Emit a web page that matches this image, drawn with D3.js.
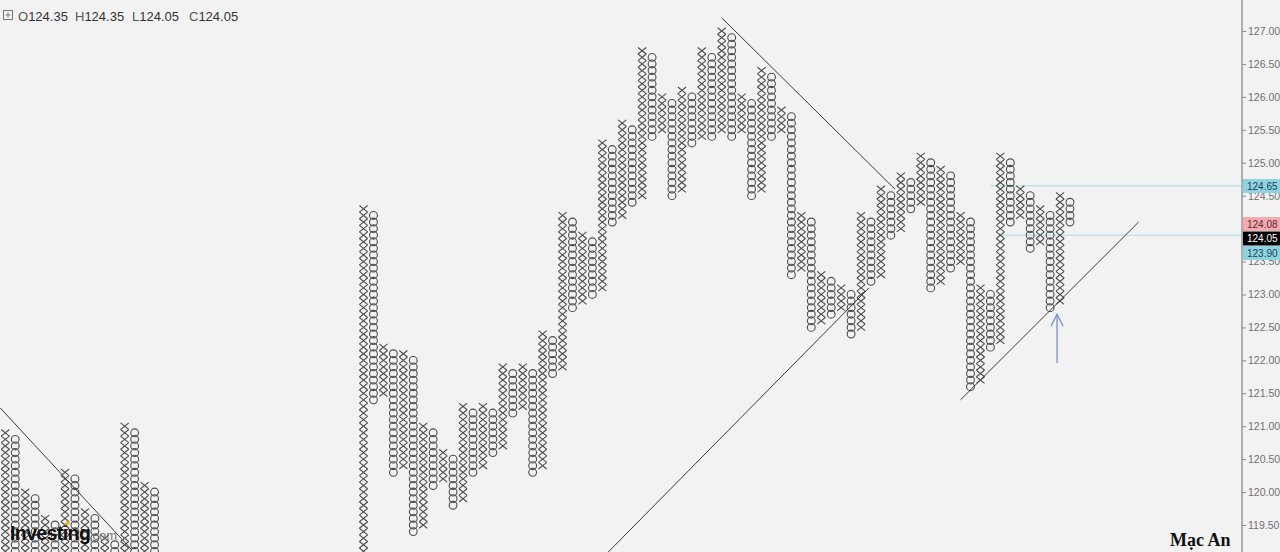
<!DOCTYPE html>
<html><head><meta charset="utf-8">
<script src="https://cdn.jsdelivr.net/npm/d3@7"></script>
<style>
html,body{margin:0;padding:0;background:#f2f2f2;}
svg{display:block;}
</style></head>
<body>
<svg id="c" width="1280" height="552"></svg>
<script>
// ---- data (column index, type, low box, high box) ----
const colIdx = [-37,-36,-35,-34,-33,-32,-31,-30,-29,-28,-27,-26,-25,-24,-23,-22,-21,
  0,1,2,3,4,5,6,7,8,9,10,11,12,13,14,15,16,17,18,19,20,21,22,23,24,25,26,27,28,29,30,
  31,32,33,34,35,36,37,38,39,40,41,42,43,44,45,46,47,48,49,50,51,52,53,54,55,56,57,58,59,
  60,61,62,63,64,65,66,67,68,69,70,71];
const colType = ["O","X","O","X","O","X","O","X","O","X","O","X","O","X","O","X","O",
  "X","O","X","O","X","O","X","O","X","O","X","O","X","O","X","O","X","O","X","O","X","O",
  "X","O","X","O","X","O","X","O","X","O","X","O","X","O","X","O","X","O","X","O","X","O",
  "X","O","X","O","X","O","X","O","X","O","X","O","X","O","X","O","X","O","X","O","X","O",
  "X","O","X","O","X","O"];
const colLow = [118.8,118.8,118.8,118.8,118.8,118.8,118.8,118.8,118.8,118.8,118.8,118.8,118.8,118.8,118.8,118.8,118.8,
  118.8,121.4,121.5,120.3,120.4,119.4,119.5,120.1,120.2,119.8,119.9,120.3,120.4,120.6,120.7,121.2,121.3,120.3,120.4,121.8,
  121.9,122.8,122.9,123.0,123.1,124.1,124.2,124.4,124.5,125.4,125.5,124.5,124.6,125.3,125.4,125.4,125.5,125.4,125.5,124.5,
  124.6,125.4,125.5,123.3,123.4,122.5,122.6,122.7,122.8,122.4,122.5,123.2,123.3,123.9,124.0,124.3,124.4,123.1,123.2,123.4,
  123.5,121.6,121.7,122.2,122.3,124.1,124.2,123.7,123.8,122.8,122.9,124.1];
const colHigh = [120.8,120.9,120.8,120.0,119.9,119.6,119.5,120.3,120.2,119.7,119.6,119.3,119.2,121.0,120.9,120.1,120.0,
  124.3,124.2,122.2,122.1,122.1,122.0,121.0,120.9,120.6,120.5,121.3,121.2,121.3,121.2,121.9,121.8,121.9,121.8,122.4,122.3,
  124.2,124.1,123.9,123.8,125.3,125.2,125.6,125.5,126.7,126.6,126.0,125.9,126.1,126.0,126.7,126.6,127.0,126.9,126.0,125.9,
  126.4,126.3,125.8,125.7,124.2,124.1,123.3,123.2,123.1,123.0,124.2,124.1,124.6,124.5,124.8,124.7,125.1,125.0,124.9,124.8,
  124.2,124.1,123.1,123.0,125.1,125.0,124.6,124.5,124.3,124.2,124.5,124.4];
const tickValues = [119.5,120.0,120.5,121.0,121.5,122.0,122.5,123.0,123.5,124.0,124.5,125.0,125.5,126.0,126.5,127.0];
const hiddenTicks = [124.0];
const priceLabels = [
  {text:"124.65", value:124.65, bg:"#8fd3e1", fg:"#1f3f55", labelY:186},
  {text:"124.08", value:124.08, bg:"#f5a9b1", fg:"#5a2a2e", labelY:224},
  {text:"124.05", value:124.05, bg:"#000000", fg:"#ffffff", labelY:238.5},
  {text:"123.90", value:123.90, bg:"#8fd3e1", fg:"#1f3f55", labelY:253}
];
const hLines = [{value:124.65, fromCol:63}, {value:123.90, fromCol:64.2}];
const ohlc = [["O","124.35"],["H","124.35"],["L","124.05"],["C","124.05"]];
// trend lines in [column, price] coordinates
const trendLines = [
  [[-36.53,121.28],[-23.27,119.12]],
  [[24.6,119.09],[50.8,123.1]],
  [[36.0,127.2],[53.4,124.6]],
  [[60.0,121.4],[77.9,124.1]]
];

const W = 1280, H = 552, axisX = 1242;
const svg = d3.select("#c");
const x = d3.scaleLinear().domain([-36, 71]).range([5.3, 1070]);
const y = d3.scaleLinear().domain([119.5, 127]).range([525, 31]);
const boxH = y(0) - y(0.1);
const font = "Liberation Sans, Arial, sans-serif";

svg.append("rect").attr("width",W).attr("height",H).attr("fill","#f2f2f2");
svg.append("defs").append("clipPath").attr("id","plot")
  .append("rect").attr("x",0).attr("y",0).attr("width",axisX).attr("height",H);

const plot = svg.append("g").attr("clip-path","url(#plot)");

// horizontal lines
hLines.forEach(h=>{
  plot.append("line").attr("x1",x(h.fromCol)).attr("x2",axisX)
    .attr("y1",y(h.value)).attr("y2",y(h.value))
    .attr("stroke","#a9dbe6").attr("stroke-width",1);
});

// columns
const cols = colIdx.map((c,i)=>({c, t:colType[i], lo:Math.round(colLow[i]*10), hi:Math.round(colHigh[i]*10)}));
const boxes = [];
cols.forEach(col=>{ for(let k=col.lo;k<=col.hi;k++) boxes.push({c:col.c,t:col.t,v:k/10}); });
const stroke = "#4d4d4d";
const xs = boxes.filter(b=>b.t==="X");
const os = boxes.filter(b=>b.t==="O");
const hw = 4.1, hh = boxH/2;
plot.append("g").selectAll("path").data(xs).join("path")
  .attr("d",b=>{const cx=x(b.c), cy=y(b.v);
    return `M${cx-hw},${cy-hh}L${cx+hw},${cy+hh}M${cx-hw},${cy+hh}L${cx+hw},${cy-hh}`;})
  .attr("stroke",stroke).attr("stroke-width",1.1).attr("fill","none");
plot.append("g").selectAll("circle").data(os).join("circle")
  .attr("cx",b=>x(b.c)).attr("cy",b=>y(b.v)).attr("r",3.9)
  .attr("stroke",stroke).attr("stroke-width",1.1).attr("fill","none");

// trend lines
trendLines.forEach(l=>{
  plot.append("line").attr("x1",x(l[0][0])).attr("y1",y(l[0][1]))
    .attr("x2",x(l[1][0])).attr("y2",y(l[1][1]))
    .attr("stroke","#3a3a3a").attr("stroke-width",1);
});

// arrow
const ax = x(69.7);
const ag = plot.append("g").attr("stroke","#8396c8").attr("stroke-width",1.4).attr("fill","none");
ag.append("line").attr("x1",ax).attr("x2",ax).attr("y1",y(121.96)).attr("y2",y(122.7));
ag.append("path").attr("d",`M${ax-6},${y(122.52)}L${ax},${y(122.7)}L${ax+6},${y(122.52)}`);

// axis
svg.append("line").attr("x1",axisX).attr("x2",axisX).attr("y1",0).attr("y2",H)
  .attr("stroke","#8a8a8a").attr("stroke-width",1.3);
const axis = d3.axisRight(y).tickValues(tickValues)
  .tickFormat(d=>hiddenTicks.includes(d) ? "" : d3.format(".2f")(d)).tickSize(4).tickPadding(2);
const ag2 = svg.append("g").attr("transform",`translate(${axisX},0)`).call(axis);
ag2.select(".domain").remove();
ag2.selectAll(".tick line").attr("stroke","#8a8a8a");
ag2.selectAll(".tick text").attr("fill","#707070").attr("font-size","10.5px").attr("font-family",font);

// price labels
priceLabels.forEach(p=>{
  const g = svg.append("g").attr("transform",`translate(${axisX+1},${p.labelY})`);
  g.append("rect").attr("x",0).attr("y",-7).attr("width",W-axisX).attr("height",14).attr("fill",p.bg);
  g.append("text").attr("x",4).attr("y",3.6).attr("fill",p.fg).attr("font-size","10px")
    .attr("font-family",font).text(p.text);
});

// OHLC header
const hdr = svg.append("g").attr("font-family",font).attr("font-size","13px");
hdr.append("rect").attr("x",3.5).attr("y",10.5).attr("width",9).attr("height",9).attr("fill","none").attr("stroke","#777");
hdr.append("path").attr("d","M8,12.5V17.5M5.5,15H10.5").attr("stroke","#777");
const hx = [18, 75, 132, 189];
ohlc.forEach((o,i)=>{
  const t = hdr.append("text").attr("x",hx[i]).attr("y",21).attr("fill","#333");
  t.append("tspan").attr("fill","#555").text(o[0]);
  t.append("tspan").text(o[1]);
});

// Investing logo
const lg = svg.append("g");
lg.append("text").attr("x",10).attr("y",540).attr("font-family",font)
  .attr("font-weight","bold").attr("font-size","19.5px").attr("letter-spacing","-0.6").attr("fill","#111").text("Investing");
lg.append("text").attr("x",89).attr("y",540).attr("font-family",font)
  .attr("font-size","13px").attr("fill","#777").text(".com");
lg.append("path").attr("d","M64,526L68,520L70,524Z").attr("fill","#f2a900");

// signature
svg.append("text").attr("x",1170).attr("y",546).attr("font-family","Liberation Serif, Times New Roman, serif")
  .attr("font-weight","bold").attr("font-size","18px").attr("fill","#111").text("Mạc An");
</script>
</body></html>
